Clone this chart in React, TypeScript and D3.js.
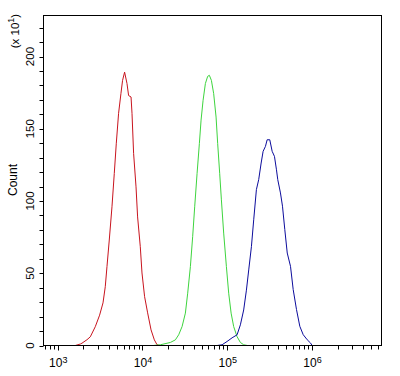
import React from "react";
import * as d3 from "d3";

// Fluorescence intensity (x) and count in units of x10 (y)
const redX = [1406, 1610, 1846, 1931, 2213, 2421, 2773, 3119, 3420, 3638, 3811, 4055, 4365, 4645, 4909, 5224, 5572, 5821, 6151, 6561, 6855, 7326, 7520, 7855, 8388, 8757, 9418, 9865, 10590, 11500, 12620, 13800, 14860, 15800];
const redY = [0, 0, 1, 1.6, 4, 6, 13, 21, 29.5, 40.7, 54.6, 73, 96, 119, 140, 160.7, 174.5, 183.5, 189.2, 181.4, 173, 172, 160.7, 133, 109.8, 89, 68.4, 50.2, 33.8, 22.6, 10.8, 3.9, 0.5, 0];

const greenX = [13420, 16250, 21330, 24430, 26730, 29320, 32060, 34140, 36730, 39080, 41300, 44060, 46900, 49100, 51880, 55210, 58760, 61530, 65010, 69180, 73810, 77090, 81430, 85290, 90780, 97700, 104000, 111100, 119100, 130600, 142900, 156300, 172800];
const greenY = [0, 0.5, 2.1, 3.9, 7.4, 13.1, 22.4, 36.2, 54.6, 75.3, 96, 119, 139.9, 156, 169.7, 181.3, 186.3, 187, 183.5, 174.3, 158.1, 139.9, 119.2, 100.8, 77.8, 54.6, 36.2, 22.4, 13.1, 6.1, 2.1, 0.5, 0];

const blueX = [59960, 75880, 86900, 99550, 114000, 130600, 142900, 156300, 168300, 179200, 192800, 205200, 220800, 235000, 251200, 265000, 282300, 295700, 317500, 338800, 360700, 381000, 394500, 424400, 448500, 477500, 510400, 557600, 600000, 656200, 718000, 787100, 877600, 960500, 1005000];
const blueY = [0, 0, 0.5, 2.8, 5.3, 7.4, 14.3, 24.6, 38.3, 52.3, 68.4, 87, 107.9, 114.8, 126.3, 134.4, 137.8, 142.4, 142.4, 134.4, 130.9, 121.6, 114.8, 105.6, 96.4, 80.3, 64, 54.8, 38.7, 24.9, 13.3, 7.5, 4.0, 1.7, 0];

const yTickLabels = [0, 50, 100, 150, 200];
const xDecades = [3, 4, 5, 6];

const W = 400;
const H = 376;
const left = 43.5;
const right = 381.5;
const top = 15.5;
const bottom = 345.5;
const font = "'Liberation Sans', Arial, sans-serif";

export default function App() {
  const x = d3.scaleLog().domain([Math.pow(10, 2.832), Math.pow(10, 6.82)]).range([left, right]);
  const y = d3.scaleLinear().domain([0, 228.4]).range([bottom, top]);

  const line = d3
    .line<[number, number]>()
    .x((d) => x(d[0]))
    .y((d) => y(d[1]))
    .curve(d3.curveLinear);

  const series = [
    { xs: redX, ys: redY, color: "#c8141e" },
    { xs: greenX, ys: greenY, color: "#3ed43e" },
    { xs: blueX, ys: blueY, color: "#0c0c9c" },
  ];

  const [d0, d1] = x.domain();
  const xTicks: { v: number; major: boolean }[] = [];
  for (let e = 2; e <= 7; e++) {
    for (let m = 1; m <= 9; m++) {
      const v = m * Math.pow(10, e);
      if (v >= d0 && v <= d1) xTicks.push({ v, major: m === 1 });
    }
  }
  const yTicks = d3.range(0, 221, 10);

  return (
    <svg width={W} height={H} style={{ position: "fixed", left: 0, top: 0, background: "#fff" }}>
      <rect x={0} y={0} width={W} height={H} fill="#fff" />
      {series.map((s, i) => (
        <path
          key={i}
          d={line(s.xs.map((v, j) => [v, s.ys[j]] as [number, number])) || ""}
          fill="none"
          stroke={s.color}
          strokeWidth={1}
        />
      ))}
      <rect x={left} y={top} width={right - left} height={bottom - top} fill="none" stroke="#000" strokeWidth={1} />
      {yTicks.map((t) => (
        <line key={"yt" + t} x1={left - 4} x2={left} y1={Math.round(y(t)) + 0.5} y2={Math.round(y(t)) + 0.5} stroke="#000" />
      ))}
      {xTicks.map((t, i) => (
        <line key={"xt" + i} x1={Math.round(x(t.v)) + 0.5} x2={Math.round(x(t.v)) + 0.5} y1={bottom} y2={bottom + (t.major ? 5 : 4)} stroke="#000" />
      ))}
      {yTickLabels.map((t) => (
        <text
          key={"yl" + t}
          transform={`translate(33.5,${y(t)}) rotate(-90)`}
          textAnchor="middle"
          fontFamily={font}
          fontSize={11.5}
          fill="#000"
        >
          {t}
        </text>
      ))}
      {xDecades.map((e) => (
        <text key={"xl" + e} x={x(Math.pow(10, e)) + 0.5} y={367} textAnchor="middle" fontFamily={font} fontSize={12} fill="#000">
          10
          <tspan fontSize={9} dy={-4.5}>
            {e}
          </tspan>
        </text>
      ))}
      <text transform="translate(16.7,180) rotate(-90)" textAnchor="middle" fontFamily={font} fontSize={12} fill="#000">
        Count
      </text>
      <text transform="translate(18.5,31) rotate(-90)" textAnchor="middle" fontFamily={font} fontSize={11.5} fill="#000">
        (x 10
        <tspan fontSize={9} dy={-4.5}>
          1
        </tspan>
        <tspan dy={4.5}>)</tspan>
      </text>
    </svg>
  );
}
